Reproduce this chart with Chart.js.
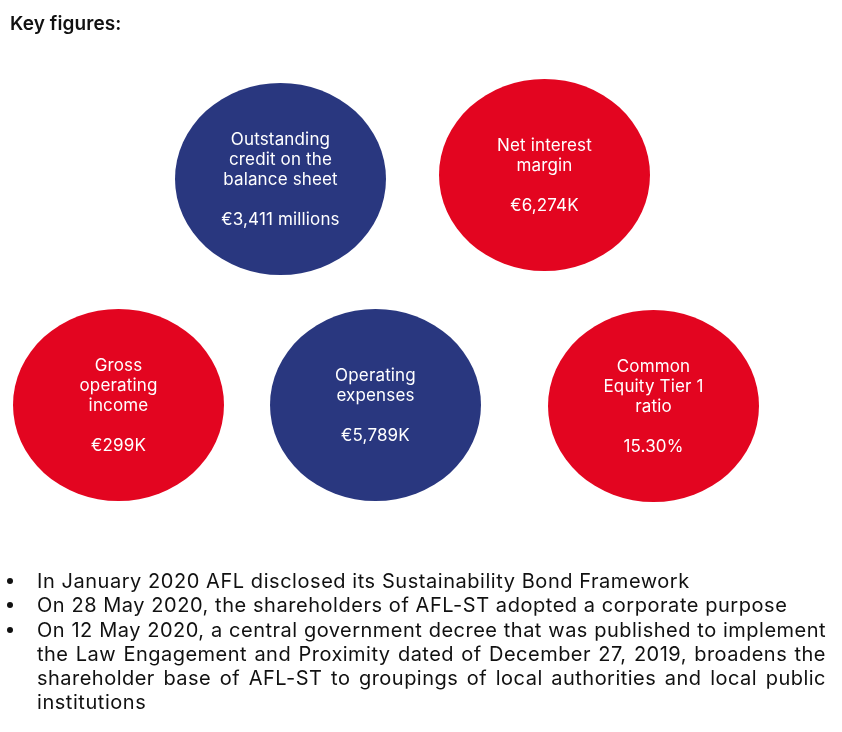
<![CDATA[<!DOCTYPE html>
<html><head><meta charset="utf-8">
<script src="https://cdn.jsdelivr.net/npm/chart.js@4"></script>
<style>
html,body{margin:0;padding:0;background:#fff;width:842px;height:732px;overflow:hidden}
#wrap{position:relative;width:842px;height:732px}
canvas{position:absolute;left:0;top:0}
.t{position:absolute;font-family:Inter,sans-serif;color:#111}
#title{left:10px;top:13px;font-size:19px;font-weight:600;line-height:22px;letter-spacing:.1px}
#notes{left:0;top:569px;width:826px;margin:0;padding:0;list-style:none;font-size:20px;line-height:24.3px;letter-spacing:.55px}
#notes li{position:relative;padding-left:37px}
#notes li:before{content:"";position:absolute;left:7px;top:9px;width:6px;height:6px;border-radius:50%;background:#111}
#notes span{display:block;white-space:nowrap}
#notes span.j{white-space:normal;text-align:justify;text-align-last:justify;letter-spacing:.48px}
</style></head><body>
<div id="wrap"><canvas id="c" width="842" height="732"></canvas>
<div class="t" id="title"></div><ul class="t" id="notes"></ul></div>
<script>
const titleText = "Key figures:";
const kpiLabels = [
 ["Outstanding","credit on the","balance sheet"],
 ["Net interest","margin"],
 ["Gross","operating","income"],
 ["Operating","expenses"],
 ["Common","Equity Tier 1","ratio"]];
const kpiValues = ["€3,411 millions","€6,274K","€299K","€5,789K","15.30%"];
const kpiX = [280.5,544.5,118.5,375.5,653.5];
const kpiY = [179,175,405,405,406];
const kpiColors = ["#29377F","#E30520","#E30520","#29377F","#E30520"];
const notes = [
 ["In January 2020 AFL disclosed its Sustainability Bond Framework"],
 ["On 28 May 2020, the shareholders of AFL-ST adopted a corporate purpose"],
 ["On 12 May 2020, a central government decree that was published to implement",
  "the Law Engagement and Proximity dated of December 27, 2019, broadens the",
  "shareholder base of AFL-ST to groupings of local authorities and local public",
  "institutions"]];

document.getElementById('title').textContent = titleText;
document.getElementById('notes').innerHTML = notes.map(n=>
  '<li>'+n.map((l,i)=>`<span class="${i<n.length-1?'j':''}">${l}</span>`).join('')+'</li>').join('');

function ellipseStyle(color){
  const w=211,h=192,c=document.createElement('canvas');
  c.width=w;c.height=h;
  const g=c.getContext('2d');
  g.fillStyle=color;g.beginPath();g.ellipse(w/2,h/2,w/2,h/2,0,0,Math.PI*2);g.fill();
  return c;
}
const labelPlugin={id:'kpiText',afterDatasetsDraw(chart){
  const {ctx}=chart,meta=chart.getDatasetMeta(0);
  ctx.save();ctx.fillStyle='#fff';ctx.textAlign='center';ctx.textBaseline='middle';
  ctx.font='17px Inter, sans-serif';ctx.letterSpacing='0.15px';
  meta.data.forEach((p,i)=>{
    const lines=[...kpiLabels[i],"",kpiValues[i]];
    const lh=20,top=p.y+1-(lines.length-1)*lh/2;
    lines.forEach((l,j)=>{if(l)ctx.fillText(l,p.x,top+j*lh);});
  });
  ctx.restore();
}};
new Chart(document.getElementById('c'),{
  type:'scatter',
  data:{datasets:[{label:'Key figures',
    data:kpiX.map((x,i)=>({x,y:kpiY[i]})),
    pointStyle:kpiColors.map(ellipseStyle),
    pointRadius:100,pointHoverRadius:100,backgroundColor:kpiColors,clip:false}]},
  options:{responsive:false,animation:false,devicePixelRatio:1,
    layout:{padding:0,autoPadding:false},
    plugins:{legend:{display:false},tooltip:{enabled:false},title:{display:false}},
    scales:{x:{type:'linear',display:false,min:0,max:842},
            y:{type:'linear',display:false,min:0,max:732,reverse:true}}},
  plugins:[labelPlugin]
});
</script></body></html>]]>
